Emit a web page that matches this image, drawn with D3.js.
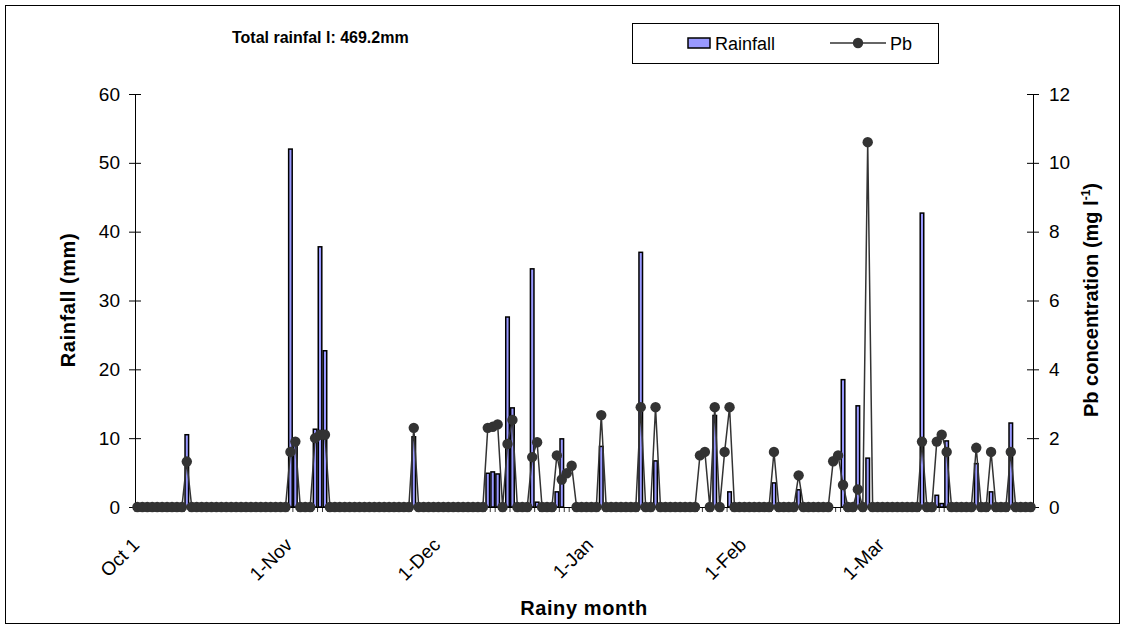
<!DOCTYPE html>
<html>
<head>
<meta charset="utf-8">
<script src="https://cdn.jsdelivr.net/npm/d3@7"></script>
<style>
  body { margin: 0; background: #fff; }
  svg { display: block; }
  text { font-family: "Liberation Sans", Arial, sans-serif; fill: #000; }
</style>
</head>
<body>
<svg id="chart" width="1126" height="628"></svg>
<script>
// Daily rainfall (mm), one array per month of the rainy season
const rainOct = [0,0,0,0,0,0,0,0,0,0,10.5,0,0,0,0,0,0,0,0,0,0,0,0,0,0,0,0,0,0,0,0];
const rainNov = [52,9,0,0,0,11.3,37.8,22.7,0,0,0,0,0,0,0,0,0,0,0,0,0,0,0,0,0,10.2,0,0,0,0];
const rainDec = [0,0,0,0,0,0,0,0,0,0,4.9,5.1,4.8,0,27.6,14.4,0,0,0,34.6,0.7,0,0,0,2.2,9.9,0,0,0,0,0];
const rainJan = [0,0,8.8,0,0,0,0,0,0,0,37,0,0,6.7,0,0,0,0,0,0,0,0,0,0,0,13.3,0,0,2.2,0,0];
const rainFeb = [0,0,0,0,0,0,3.5,0,0,0,0,2.5,0,0,0,0,0,0,0,0,18.5,0,0,14.7,0,7.1,0,0];
const rainMar = [0,0,0,0,0,0,0,0,42.7,0,0,1.7,0.5,9.6,0,0,0,0,0,6.3,0,0,2.2,0,0,0,12.2,0,0,0,0];

// Daily Pb concentration in rainwater (mg l-1)
const pbOct = [0,0,0,0,0,0,0,0,0,0,1.32,0,0,0,0,0,0,0,0,0,0,0,0,0,0,0,0,0,0,0,0];
const pbNov = [1.6,1.9,0,0,0,2.0,2.1,2.1,0,0,0,0,0,0,0,0,0,0,0,0,0,0,0,0,0,2.3,0,0,0,0];
const pbDec = [0,0,0,0,0,0,0,0,0,0,2.3,2.33,2.4,0,1.83,2.53,0,0,0,1.45,1.88,0,0,0,1.5,0.8,0.98,1.2,0,0,0];
const pbJan = [0,0,2.67,0,0,0,0,0,0,0,2.9,0,0,2.9,0,0,0,0,0,0,0,0,1.5,1.6,0,2.9,0,1.6,2.9,0,0];
const pbFeb = [0,0,0,0,0,0,1.6,0,0,0,0,0.92,0,0,0,0,0,0,1.33,1.5,0.64,0,0,0.51,0,10.6,0,0];
const pbMar = [0,0,0,0,0,0,0,0,1.9,0,0,1.9,2.1,1.6,0,0,0,0,0,1.72,0,0,1.6,0,0,0,1.6,0,0,0,0];

// Axis ticks and labels
const rainTicks = [0, 10, 20, 30, 40, 50, 60];
const pbTicks = [0, 2, 4, 6, 8, 10, 12];
const dateLabels = ["Oct 1", "1-Nov", "1-Dec", "1-Jan", "1-Feb", "1-Mar"];
const titleText = "Total rainfal l: 469.2mm";

const rainfall = [].concat(rainOct, rainNov, rainDec, rainJan, rainFeb, rainMar);
const pb = [].concat(pbOct, pbNov, pbDec, pbJan, pbFeb, pbMar);
// one category per day, 1 Oct to 31 Mar
const days = d3.timeDay.range(new Date(2001, 9, 1), new Date(2002, 3, 1));
const data = days.map((d, i) => ({ date: d, i, rain: rainfall[i], pb: pb[i] }));
const labelIdx = data.filter(d => d.date.getDate() === 1).map(d => d.i);

const svg = d3.select("#chart");
const L = 135, R = 1033, T = 94, B = 507;

// outer frame
svg.append("rect").attr("x", 5.5).attr("y", 5.5).attr("width", 1114).attr("height", 618)
  .attr("fill", "#fff").attr("stroke", "#000").attr("stroke-width", 1);

const x = d3.scaleBand().domain(data.map(d => d.i)).range([L, R]).paddingInner(0).paddingOuter(0);
const yRain = d3.scaleLinear().domain([0, 60]).range([B, T]);
const yPb = d3.scaleLinear().domain([0, 12]).range([B, T]);
const bw = x.bandwidth();
const cx = i => x(i) + bw / 2;

// rainfall bars
const barW = bw * 0.72;
svg.append("g").selectAll("rect").data(data.filter(d => d.rain > 0)).join("rect")
  .attr("x", d => cx(d.i) - barW / 2)
  .attr("y", d => yRain(d.rain))
  .attr("width", barW)
  .attr("height", d => yRain(0) - yRain(d.rain))
  .attr("fill", "#9999ff").attr("stroke", "#000").attr("stroke-width", 1.5);

// category axis: a tick between every day, labels on the first of each month
const xAxis = svg.append("g");
xAxis.append("line").attr("x1", L).attr("x2", R).attr("y1", B + 0.5).attr("y2", B + 0.5)
  .attr("stroke", "#000");
xAxis.selectAll("line.tk").data(d3.range(data.length + 1)).join("line").attr("class", "tk")
  .attr("x1", i => L + i * bw).attr("x2", i => L + i * bw)
  .attr("y1", B).attr("y2", B + 5).attr("stroke", "#000").attr("stroke-width", 0.8);
xAxis.selectAll("text").data(labelIdx).join("text")
  .attr("transform", (i) => `translate(${cx(i) + 3},${B + 39}) rotate(-45)`)
  .attr("text-anchor", "end").attr("font-size", 19)
  .text((i, k) => dateLabels[k]);

// value axes with ticks crossing the axis line
function styleAxis(g) {
  g.select(".domain").attr("stroke", "#000");
  g.selectAll(".tick line").attr("stroke", "#000");
  g.selectAll(".tick text").attr("font-size", 19).attr("font-family", "Liberation Sans, Arial, sans-serif");
}
const gl = svg.append("g").attr("transform", `translate(${L},0)`)
  .call(d3.axisLeft(yRain).tickValues(rainTicks).tickSizeInner(6).tickSizeOuter(0).tickPadding(9));
gl.selectAll(".tick line").attr("x1", 6);
styleAxis(gl);
const gr = svg.append("g").attr("transform", `translate(${R},0)`)
  .call(d3.axisRight(yPb).tickValues(pbTicks).tickSizeInner(6).tickSizeOuter(0).tickPadding(10));
gr.selectAll(".tick line").attr("x1", -6);
styleAxis(gr);

// Pb line and markers
const line = d3.line().x(d => cx(d.i)).y(d => yPb(d.pb));
svg.append("path").datum(data).attr("d", line)
  .attr("fill", "none").attr("stroke", "#333").attr("stroke-width", 1.5);
svg.append("g").selectAll("circle").data(data).join("circle")
  .attr("cx", d => cx(d.i)).attr("cy", d => yPb(d.pb)).attr("r", 5.2)
  .attr("fill", "#333");

// axis titles
svg.append("text").attr("transform", "translate(75,300) rotate(-90)")
  .attr("text-anchor", "middle").attr("font-size", 20).attr("font-weight", "bold")
  .attr("letter-spacing", 0.6).text("Rainfall (mm)");
const rt = svg.append("text").attr("transform", "translate(1098,300) rotate(-90)")
  .attr("text-anchor", "middle").attr("font-size", 20).attr("font-weight", "bold");
rt.append("tspan").text("Pb concentration (mg l");
rt.append("tspan").attr("dy", -8).attr("font-size", 12).text("-1");
rt.append("tspan").attr("dy", 8).text(")");
svg.append("text").attr("x", 584).attr("y", 615).attr("text-anchor", "middle")
  .attr("font-size", 20).attr("font-weight", "bold").attr("letter-spacing", 0.6).text("Rainy month");

// total rainfall note
svg.append("text").attr("x", 232).attr("y", 43).attr("font-size", 16).attr("font-weight", "bold")
  .text(titleText);

// legend
const lg = svg.append("g");
lg.append("rect").attr("x", 632.5).attr("y", 23.5).attr("width", 306).attr("height", 40)
  .attr("fill", "#fff").attr("stroke", "#000");
lg.append("rect").attr("x", 688).attr("y", 38).attr("width", 22).attr("height", 10)
  .attr("fill", "#9999ff").attr("stroke", "#000").attr("stroke-width", 1.5);
lg.append("text").attr("x", 715).attr("y", 50).attr("font-size", 18).text("Rainfall");
lg.append("line").attr("x1", 830).attr("x2", 886).attr("y1", 43).attr("y2", 43)
  .attr("stroke", "#333").attr("stroke-width", 1.5);
lg.append("circle").attr("cx", 858).attr("cy", 43).attr("r", 5.2).attr("fill", "#333");
lg.append("text").attr("x", 890).attr("y", 50).attr("font-size", 18).text("Pb");
</script>
</body>
</html>
